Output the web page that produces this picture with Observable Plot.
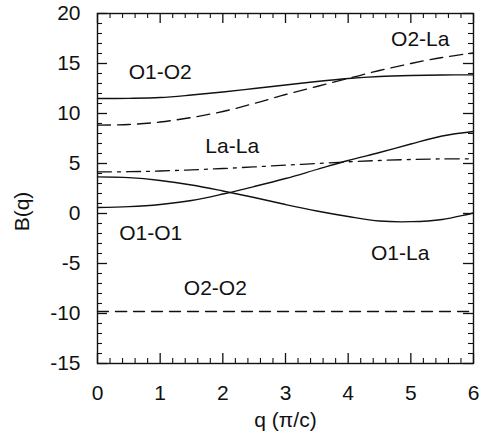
<!DOCTYPE html>
<html>
<head>
<meta charset="utf-8">
<script src="https://cdn.jsdelivr.net/npm/d3@7"></script>
<script src="https://cdn.jsdelivr.net/npm/@observablehq/plot@0.6"></script>
</head>
<body style="margin:0">
<div id="chart"></div>
<script>
// q values (π/c)
const q = [0, 0.5, 1, 1.5, 2, 2.5, 3, 3.5, 4, 4.5, 5, 5.5, 6];
// series values B(q)
const O1O2 = [11.5, 11.52, 11.6, 11.85, 12.15, 12.5, 12.85, 13.2, 13.5, 13.7, 13.8, 13.85, 13.86];
const O2La = [8.84, 8.9, 9.15, 9.6, 10.2, 11.0, 11.9, 12.7, 13.5, 14.3, 15.0, 15.6, 16.05];
const LaLa = [4.16, 4.18, 4.25, 4.36, 4.5, 4.66, 4.83, 5.0, 5.17, 5.3, 5.4, 5.46, 5.47];
const O1O1 = [0.6, 0.68, 0.9, 1.3, 1.95, 2.7, 3.5, 4.4, 5.3, 6.1, 6.95, 7.75, 8.2];
const O1La = [3.66, 3.58, 3.3, 2.85, 2.25, 1.6, 0.9, 0.25, -0.3, -0.75, -0.82, -0.6, 0.05];
const O2O2 = [-9.8, -9.8, -9.8, -9.8, -9.8, -9.8, -9.8, -9.8, -9.8, -9.8, -9.8, -9.8, -9.8];

// curve labels
const labelNames = ["O1-O2", "O2-La", "La-La", "O1-O1", "O1-La", "O2-O2"];
const labelQ = [1.0, 5.15, 2.15, 0.85, 4.83, 1.88];
const labelB = [14.1, 17.4, 6.7, -2.0, -4.0, -7.5];

// ticks
const xMajor = [0, 1, 2, 3, 4, 5, 6];
const xMinor = [0.2, 0.4, 0.6, 0.8, 1.2, 1.4, 1.6, 1.8, 2.2, 2.4, 2.6, 2.8, 3.2, 3.4, 3.6, 3.8, 4.2, 4.4, 4.6, 4.8, 5.2, 5.4, 5.6, 5.8];
const yMajor = [-15, -10, -5, 0, 5, 10, 15, 20];
const yMinor = [-14, -13, -12, -11, -9, -8, -7, -6, -4, -3, -2, -1, 1, 2, 3, 4, 6, 7, 8, 9, 11, 12, 13, 14, 16, 17, 18, 19];

const W = 482, H = 433;
const mL = 97, mR = 9, mT = 13, mB = 70;
const pw = W - mL - mR, ph = H - mT - mB;
const majorLen = 10, minorLen = 5;
const ink = "#111";

const series = (arr) => q.map((x, i) => ({q: x, b: arr[i]}));
const labels = labelNames.map((n, i) => ({name: n, q: labelQ[i], b: labelB[i]}));

const chart = Plot.plot({
  width: W,
  height: H,
  marginLeft: mL,
  marginRight: mR,
  marginTop: mT,
  marginBottom: mB,
  style: {fontSize: "21px", fontFamily: "Liberation Sans, Arial", color: "#111", background: "#fff"},
  x: {domain: [0, 6], ticks: xMajor, tickSize: 0, tickPadding: 22, label: null, tickFormat: d => String(d)},
  y: {domain: [-15, 20], ticks: yMajor, tickSize: 0, tickPadding: 17, label: null, tickFormat: d => d < 0 ? "-" + Math.abs(d) : String(d)},
  marks: [
    // curves
    Plot.line(series(O1O2), {x: "q", y: "b", stroke: ink, strokeWidth: 1.3, curve: "catmull-rom"}),
    Plot.line(series(O2La), {x: "q", y: "b", stroke: ink, strokeWidth: 1.3, strokeDasharray: "13,7", curve: "catmull-rom"}),
    Plot.line(series(LaLa), {x: "q", y: "b", stroke: ink, strokeWidth: 1.3, strokeDasharray: "14,6,3,6", curve: "catmull-rom"}),
    Plot.line(series(O1O1), {x: "q", y: "b", stroke: ink, strokeWidth: 1.3, curve: "catmull-rom"}),
    Plot.line(series(O1La), {x: "q", y: "b", stroke: ink, strokeWidth: 1.3, curve: "catmull-rom"}),
    Plot.line(series(O2O2), {x: "q", y: "b", stroke: ink, strokeWidth: 1.3, strokeDasharray: "11,7", curve: "catmull-rom"}),
    // curve labels
    Plot.text(labels, {x: "q", y: "b", text: "name", fill: ink, fontSize: 21}),
    // axis titles
    Plot.text(["B(q)"], {frameAnchor: "left", dx: -75, dy: 23, rotate: -90, textAnchor: "middle", lineAnchor: "middle", text: d => d, fill: ink, fontSize: 21}),
    Plot.text(["q (π/c)"], {frameAnchor: "bottom", dy: 57, textAnchor: "middle", lineAnchor: "middle", text: d => d, fill: ink, fontSize: 21}),
    Plot.frame({stroke: ink, fill: "none", strokeWidth: 1.4}),
    // inward ticks on all four sides (drawn last)
    Plot.tickX(xMajor, {x: d => d, insetTop: ph - majorLen, stroke: "#111", strokeWidth: 1.3}),
    Plot.tickX(xMajor, {x: d => d, insetBottom: ph - majorLen, stroke: "#111", strokeWidth: 1.3}),
    Plot.tickX(xMinor, {x: d => d, insetTop: ph - minorLen, stroke: "#111", strokeWidth: 1.1}),
    Plot.tickX(xMinor, {x: d => d, insetBottom: ph - minorLen, stroke: "#111", strokeWidth: 1.1}),
    Plot.tickY(yMajor, {y: d => d, insetRight: pw - majorLen, stroke: "#111", strokeWidth: 1.3}),
    Plot.tickY(yMajor, {y: d => d, insetLeft: pw - majorLen, stroke: "#111", strokeWidth: 1.3}),
    Plot.tickY(yMinor, {y: d => d, insetRight: pw - minorLen, stroke: "#111", strokeWidth: 1.1}),
    Plot.tickY(yMinor, {y: d => d, insetLeft: pw - minorLen, stroke: "#111", strokeWidth: 1.1})
  ]
});
document.getElementById("chart").appendChild(chart);
</script>
</body>
</html>
